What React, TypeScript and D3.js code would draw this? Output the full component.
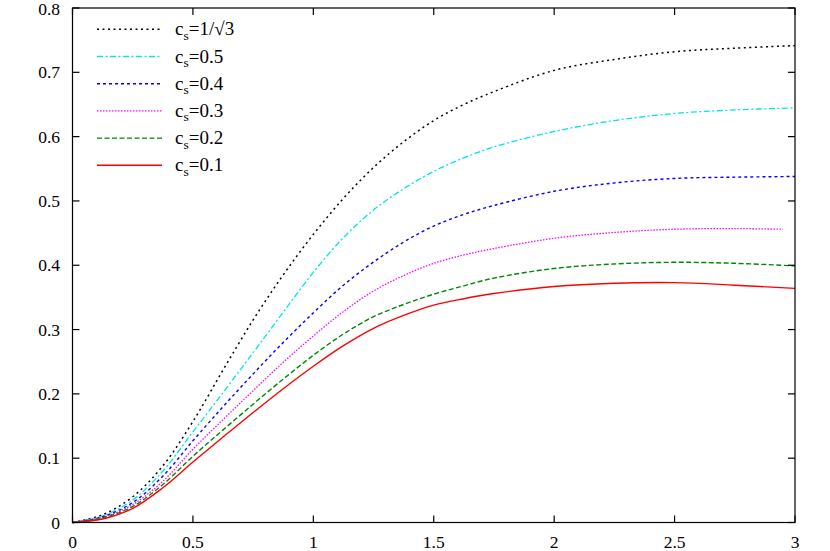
import React from "react";
import * as d3 from "d3";

const xs = [0, 0.125, 0.25, 0.375, 0.5, 0.625, 0.75, 0.875, 1, 1.125, 1.25, 1.375, 1.5, 1.625, 1.75, 2, 2.25, 2.5, 2.75, 3];
const xsMag = [0, 0.125, 0.25, 0.375, 0.5, 0.625, 0.75, 0.875, 1, 1.125, 1.25, 1.375, 1.5, 1.625, 1.75, 2, 2.25, 2.5, 2.75, 2.95];

const ySqrt3 = [0, 0.012, 0.040, 0.088, 0.157, 0.237, 0.315, 0.385, 0.448, 0.504, 0.552, 0.592, 0.625, 0.650, 0.670, 0.703, 0.720, 0.732, 0.7375, 0.7415];
const y05 = [0, 0.010, 0.035, 0.080, 0.141, 0.202, 0.264, 0.327, 0.389, 0.443, 0.486, 0.519, 0.546, 0.567, 0.584, 0.608, 0.625, 0.636, 0.6415, 0.6446];
const y04 = [0, 0.009, 0.031, 0.072, 0.127, 0.180, 0.231, 0.280, 0.326, 0.369, 0.405, 0.436, 0.461, 0.479, 0.493, 0.515, 0.528, 0.535, 0.537, 0.538];
const y03 = [0, 0.008, 0.028, 0.064, 0.114, 0.160, 0.205, 0.249, 0.290, 0.328, 0.360, 0.384, 0.403, 0.416, 0.426, 0.442, 0.451, 0.456, 0.457, 0.456];
const y02 = [0, 0.007, 0.025, 0.059, 0.103, 0.144, 0.184, 0.223, 0.260, 0.293, 0.320, 0.339, 0.355, 0.368, 0.380, 0.395, 0.402, 0.4046, 0.403, 0.399];
const y01 = [0, 0.0055, 0.022, 0.054, 0.094, 0.133, 0.171, 0.208, 0.243, 0.275, 0.302, 0.322, 0.338, 0.348, 0.356, 0.367, 0.372, 0.373, 0.369, 0.364];

const seriesLabels = ["1/\u221A3", "0.5", "0.4", "0.3", "0.2", "0.1"];
const xTicks = [0, 0.5, 1, 1.5, 2, 2.5, 3];
const yTicks = [0, 0.1, 0.2, 0.3, 0.4, 0.5, 0.6, 0.7, 0.8];

const series = [
  { label: seriesLabels[0], x: xs, y: ySqrt3, color: "#000000", dash: "2,3.5", w: 1.5 },
  { label: seriesLabels[1], x: xs, y: y05, color: "#00e5e5", dash: "6,2.5,2,2.5", w: 1.3 },
  { label: seriesLabels[2], x: xs, y: y04, color: "#0000ff", dash: "3,3", w: 1.4 },
  { label: seriesLabels[3], x: xsMag, y: y03, color: "#ff00ff", dash: "1.5,1.5", w: 1.3 },
  { label: seriesLabels[4], x: xs, y: y02, color: "#008800", dash: "5,2.5", w: 1.4 },
  { label: seriesLabels[5], x: xs, y: y01, color: "#ff0000", dash: "none", w: 1.4 },
];

export default function App() {
  const W = 830, H = 551;
  const left = 72.5, right = 795, top = 8, bottom = 522.5;
  const x = d3.scaleLinear().domain([0, 3]).range([left, right]);
  const y = d3.scaleLinear().domain([0, 0.8]).range([bottom, top]);
  const font = "'Liberation Serif', 'Times New Roman', serif";
  const tick = 7;

  const line = (xv: number[], yv: number[]) =>
    d3.line<number>()
      .x((_, i) => x(xv[i]))
      .y((d) => y(d))
      .curve(d3.curveCatmullRom.alpha(0.5))(yv) || "";

  return (
    <svg width={W} height={H} style={{ position: "absolute", left: 0, top: 0 }} fontFamily={font}>
      <rect x={0} y={0} width={W} height={H} fill="#fff" />
      {series.map((s, i) => (
        <path key={i} d={line(s.x, s.y)} fill="none" stroke={s.color} strokeWidth={s.w}
          strokeDasharray={s.dash} />
      ))}
      <rect x={left} y={top} width={right - left} height={bottom - top} fill="none" stroke="#000" strokeWidth={1.2} />
      {xTicks.map((t, i) => (
        <g key={"xt" + i}>
          <line x1={x(t)} x2={x(t)} y1={bottom} y2={bottom - tick} stroke="#000" strokeWidth={1.2} />
          <line x1={x(t)} x2={x(t)} y1={top} y2={top + tick} stroke="#000" strokeWidth={1.2} />
          <text x={x(t)} y={547.5} textAnchor="middle" fontSize={17.5}>{d3.format("")(t)}</text>
        </g>
      ))}
      {yTicks.map((t, i) => (
        <g key={"yt" + i}>
          <line x1={left} x2={left + tick} y1={y(t)} y2={y(t)} stroke="#000" strokeWidth={1.2} />
          <line x1={right} x2={right - tick} y1={y(t)} y2={y(t)} stroke="#000" strokeWidth={1.2} />
          <text x={60} y={Math.max(y(t) + 6, 14.5)} textAnchor="end" fontSize={17.5}>{d3.format("")(t)}</text>
        </g>
      ))}
      {series.map((s, i) => {
        const ly = 29.3 + i * 27.2;
        return (
          <g key={"lg" + i}>
            <line x1={97} x2={162} y1={ly} y2={ly} stroke={s.color} strokeWidth={s.w} strokeDasharray={s.dash} />
            <text x={175} y={ly + 6} fontSize={19}>
              c<tspan fontSize={13.5} dy={4.5}>s</tspan><tspan dy={-4.5}>={s.label}</tspan>
            </text>
          </g>
        );
      })}
    </svg>
  );
}
